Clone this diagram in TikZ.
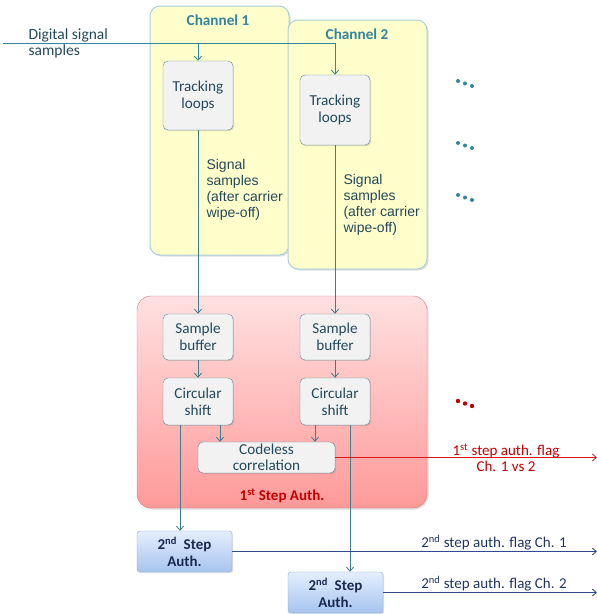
\documentclass[tikz,border=0pt]{standalone}
\usepackage{fontspec}
\setmainfont{Carlito}
\newfontfamily\arialfont{Liberation Sans}
\usetikzlibrary{positioning, arrows.meta, shadows, calc}

\definecolor{chfill}{HTML}{FFFFCC}
\definecolor{chedge}{HTML}{A8D0DA}
\definecolor{tealtxt}{HTML}{31859C}
\definecolor{boxfill}{HTML}{F2F2F2}
\definecolor{boxedge}{HTML}{5E8C98}
\definecolor{lineclr}{HTML}{3C7D8D}
\definecolor{txtclr}{HTML}{24495A}
\definecolor{authedge}{HTML}{E07474}
\definecolor{authtxt}{HTML}{C00000}
\definecolor{flagred}{HTML}{D81818}
\definecolor{flagblue}{HTML}{2F4C8C}
\definecolor{bluetop}{HTML}{E4EEFF}
\definecolor{bluebot}{HTML}{A6C4EE}
\definecolor{blueedge}{HTML}{86A8D8}

\begin{document}
\begin{tikzpicture}[
            x=1pt, y=-1pt,
            channel/.style={
                rectangle,
                rounded corners=10pt,
                draw=chedge,
                fill=chfill,
                line width=1pt,
                minimum width=139pt,
                minimum height=249pt,
                drop shadow={shadow xshift=1.5pt, shadow yshift=-1.5pt, opacity=0.25}
            },
            title/.style={
                font=\fontsize{15.2}{17}\selectfont\bfseries,
                text=tealtxt
            },
            box/.style={
                rectangle,
                rounded corners=5pt,
                draw=boxedge,
                fill=boxfill,
                minimum width=70pt,
                align=center,
                text=txtclr,
                font=\fontsize{15.2}{17}\selectfont,
                drop shadow={shadow xshift=1.2pt, shadow yshift=-1.2pt, opacity=0.3}
            },
            authbox/.style={
                rectangle,
                rounded corners=14pt,
                draw=authedge,
                top color=red!12,
                bottom color=red!40,
                minimum width=290pt,
                minimum height=212pt,
                drop shadow={shadow xshift=1.5pt, shadow yshift=-1.5pt, opacity=0.25}
            },
            authtwo/.style={
                rectangle,
                rounded corners=3pt,
                draw=blueedge,
                top color=bluetop,
                bottom color=bluebot,
                minimum width=95pt,
                minimum height=41pt,
                inner sep=1pt,
                align=center,
                text=flagblue!55!black,
                font=\fontsize{15}{17}\selectfont\bfseries,
                drop shadow={shadow xshift=1.2pt, shadow yshift=-1.2pt, opacity=0.25}
            },
            note/.style={
                align=left,
                text=txtclr,
                font=\arialfont\fontsize{14}{16}\selectfont
            },
            flow/.style={-{Straight Barb[length=4pt, width=7pt]}, draw=lineclr, line width=0.8pt},
            redflow/.style={-{Straight Barb[length=4pt, width=7pt]}, draw=flagred, line width=0.8pt},
            blueflow/.style={-{Straight Barb[length=4pt, width=7pt]}, draw=flagblue, line width=0.9pt},
            flaglabel/.style={align=center, font=\fontsize{15}{16}\selectfont}
        ]
        \useasboundingbox (0,0) rectangle (597,614);

        % Channels
        \node[channel] (ch1) at (219.5,130.5) {};
        \node[channel] (ch2) at (357.5,144.5) {};
        \node[title] (ch1title) at (218,20) {Channel 1};
        \node[title] (ch2title) at (357,34) {Channel 2};

        \node[box, minimum height=69pt] (tl1) at (198,95.5) {Tracking\\loops};
        \node[box, minimum height=70pt] (tl2) at (335,110) {Tracking\\loops};

        \node[note, anchor=west, font=\fontsize{15.5}{16}\selectfont] (inlabel) at (25,43) {Digital signal\\samples};
        \node[note, anchor=north west] (sig1) at (203,156) {Signal\\samples\\(after carrier\\wipe-off)};
        \node[note, anchor=north west] (sig2) at (340,171) {Signal\\samples\\(after carrier\\wipe-off)};

        % 1st step
        \node[authbox] (auth1) at (282,402) {};
        \node[font=\fontsize{15}{17}\selectfont\bfseries, text=authtxt] (auth1title) at (282,496) {1\textsuperscript{st} Step Auth.};

        \node[box, minimum height=46pt] (sb1) at (198,337) {Sample\\buffer};
        \node[box, minimum height=46pt] (sb2) at (335,337) {Sample\\buffer};
        \node[box, minimum height=47pt] (cs1) at (198,401.5) {Circular\\shift};
        \node[box, minimum height=47pt] (cs2) at (335,401.5) {Circular\\shift};
        \node[box, minimum width=137pt, minimum height=31pt, inner sep=0pt, font=\fontsize{15.2}{15.5}\selectfont] (cc) at (266.5,457.5) {Codeless\\correlation};

        % 2nd step
        \node[authtwo] (auth2a) at (184.5,551.5) {2\textsuperscript{nd}~~Step\\Auth.};
        \node[authtwo] (auth2b) at (335.5,592.5) {2\textsuperscript{nd}~~Step\\Auth.};

        % Arrows
        \coordinate (in) at (3,43);
        \coordinate (out) at (597,0);
        \draw[flow, draw=tealtxt] (in) -| (tl2);
        \draw[flow, draw=tealtxt] (tl1.north |- in) -- (tl1);
        \draw[flow] (tl1) -- (sb1);
        \draw[flow] (tl2) -- (sb2);
        \draw[flow] (sb1) -- (cs1);
        \draw[flow] (sb2) -- (cs2);
        \draw[flow] ([xshift=22pt]cs1.south) -- ([xshift=22pt]cs1.south |- cc.north);
        \draw[flow] ([xshift=-20pt]cs2.south) -- ([xshift=-20pt]cs2.south |- cc.north);
        \draw[flow] ([xshift=-18pt]cs1.south) -- ([xshift=-18pt]cs1.south |- auth2a.north);
        \draw[flow] ([xshift=15pt]cs2.south) -- ([xshift=15pt]cs2.south |- auth2b.north);

        \draw[redflow] (cc.east) -- (cc.east -| out);
        \draw[blueflow] (auth2a.east) -- (auth2a.east -| out);
        \draw[blueflow] (auth2b.east) -- (auth2b.east -| out);

        % Flags
        \node[flaglabel, text=authtxt] (flag12) at (506,458) {1\textsuperscript{st} step auth. flag\\Ch. 1 vs 2};
        \node[flaglabel, anchor=south, inner sep=1pt, text=flagblue!70!black] (flag1) at (494,551) {2\textsuperscript{nd} step auth. flag Ch. 1};
        \node[flaglabel, anchor=south, inner sep=1pt, text=flagblue!70!black] (flag2) at (494,592) {2\textsuperscript{nd} step auth. flag Ch. 2};

        % More channels
        \foreach \y in {81,143,195} {
            \fill[tealtxt] (458,\y) circle (2pt) (465,\y+2.5) circle (2pt) (472,\y+5) circle (2pt);
        }
        \fill[authtxt] (458,401) circle (2.2pt) (465,403.5) circle (2.2pt) (472,406) circle (2.2pt);

        \end{tikzpicture}
\end{document}
